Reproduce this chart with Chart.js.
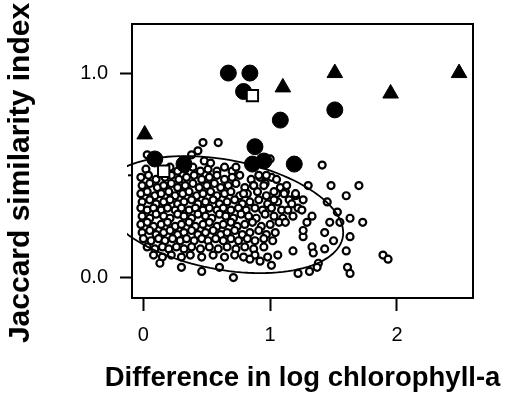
<!DOCTYPE html>
<html>
<head>
<meta charset="utf-8">
<script src="https://cdn.jsdelivr.net/npm/chart.js@4.4.0/dist/chart.umd.min.js"></script>
<style>
  html, body { margin: 0; padding: 0; background: #fff; }
  #wrap { position: relative; width: 510px; height: 393px; }
</style>
</head>
<body>
<div id="wrap"><canvas id="chart" width="510" height="393"></canvas></div>
<script>
const xTicks = [0, 1, 2];
const yTicks = [0, 1];
const yTickLabels = { 0: "0.0", 1: "1.0" };

const xTitle = "Difference in log chlorophyll-a";
const yTitle = "Jaccard similarity index";

// large markers
const filledCircles = [
  [0.67, 1.0], [0.84, 1.0], [0.79, 0.91], [1.51, 0.82], [1.08, 0.77],
  [0.88, 0.64], [0.09, 0.58], [0.32, 0.555], [0.86, 0.555], [0.95, 0.57], [1.19, 0.555]
];
const triangles = [
  [0.01, 0.70], [1.10, 0.93], [1.51, 1.0], [1.95, 0.90], [2.49, 1.0]
];
const openSquares = [
  [0.86, 0.89], [0.16, 0.52]
];

// small open circles, read row by row from the cloud
const cloud = [
  [0.02,0.53],[0.21,0.54],[0.27,0.52],[0.33,0.53],[0.39,0.54],[0.45,0.52],[0.51,0.53],[0.58,0.52],[0.64,0.54],[0.70,0.52],
  [-0.02,0.49],[0.04,0.50],[0.10,0.48],[0.17,0.49],[0.22,0.50],[0.28,0.48],[0.34,0.49],[0.40,0.50],[0.46,0.48],[0.52,0.49],[0.58,0.50],[0.64,0.48],[0.70,0.49],[0.76,0.50],[0.85,0.48],[0.92,0.49],[1.01,0.49],
  [-0.01,0.45],[0.05,0.46],[0.11,0.44],[0.16,0.45],[0.22,0.46],[0.27,0.44],[0.33,0.45],[0.39,0.46],[0.44,0.44],[0.50,0.45],[0.56,0.46],[0.61,0.44],[0.67,0.45],[0.73,0.46],[0.80,0.44],[0.87,0.45],[0.96,0.46],[1.08,0.44],
  [-0.02,0.41],[0.03,0.42],[0.09,0.40],[0.14,0.41],[0.20,0.42],[0.25,0.40],[0.31,0.41],[0.36,0.42],[0.42,0.40],[0.47,0.41],[0.53,0.42],[0.58,0.40],[0.64,0.41],[0.69,0.42],[0.76,0.40],[0.82,0.41],[0.90,0.42],[0.97,0.40],[1.05,0.41],[1.12,0.42],[1.20,0.40],
  [-0.01,0.37],[0.05,0.38],[0.10,0.36],[0.16,0.37],[0.21,0.38],[0.27,0.36],[0.32,0.37],[0.38,0.38],[0.43,0.36],[0.49,0.37],[0.55,0.38],[0.60,0.36],[0.66,0.37],[0.72,0.38],[0.78,0.36],[0.84,0.37],[0.91,0.38],[0.98,0.36],[1.06,0.37],[1.15,0.38],
  [-0.02,0.34],[0.03,0.33],[0.08,0.34],[0.14,0.33],[0.19,0.34],[0.25,0.33],[0.30,0.34],[0.36,0.33],[0.41,0.34],[0.47,0.33],[0.52,0.34],[0.58,0.33],[0.63,0.34],[0.69,0.33],[0.75,0.34],[0.81,0.33],[0.88,0.34],[0.94,0.33],[1.01,0.34],[1.09,0.33],[1.22,0.34],
  [-0.01,0.30],[0.05,0.29],[0.10,0.31],[0.16,0.30],[0.21,0.29],[0.27,0.31],[0.32,0.30],[0.38,0.29],[0.43,0.31],[0.49,0.30],[0.54,0.29],[0.60,0.31],[0.65,0.30],[0.71,0.29],[0.77,0.31],[0.83,0.30],[0.89,0.29],[0.96,0.31],[1.03,0.30],[1.10,0.29],
  [-0.02,0.26],[0.03,0.27],[0.08,0.25],[0.14,0.26],[0.19,0.27],[0.25,0.25],[0.30,0.26],[0.36,0.27],[0.41,0.25],[0.47,0.26],[0.52,0.27],[0.58,0.25],[0.63,0.26],[0.69,0.27],[0.74,0.25],[0.80,0.26],[0.86,0.27],[0.93,0.25],[1.00,0.26],[1.07,0.27],
  [-0.01,0.22],[0.05,0.23],[0.10,0.21],[0.16,0.22],[0.21,0.23],[0.27,0.21],[0.32,0.22],[0.38,0.23],[0.43,0.21],[0.49,0.22],[0.55,0.23],[0.61,0.21],[0.66,0.22],[0.72,0.23],[0.78,0.21],[0.84,0.22],[0.91,0.23],[0.97,0.21],[1.04,0.22],
  [0.00,0.19],[0.06,0.18],[0.12,0.19],[0.17,0.18],[0.23,0.19],[0.29,0.18],[0.34,0.19],[0.40,0.18],[0.46,0.19],[0.51,0.18],[0.57,0.19],[0.63,0.18],[0.69,0.19],[0.75,0.18],[0.82,0.19],[0.88,0.18],[0.95,0.19],[1.02,0.18],
  [0.03,0.15],[0.09,0.14],[0.15,0.15],[0.20,0.14],[0.26,0.15],[0.32,0.14],[0.38,0.15],[0.45,0.14],[0.52,0.15],[0.59,0.14],[0.66,0.15],[0.73,0.14],[0.80,0.15],[0.87,0.14],[0.95,0.15],
  [0.08,0.11],[0.15,0.10],[0.22,0.11],[0.30,0.10],[0.37,0.11],[0.46,0.10],[0.55,0.11],[0.64,0.10],[0.72,0.11],[0.79,0.10],[0.88,0.11],[0.98,0.10],[1.06,0.11],
  // scattered points around the edge of the cloud
  [0.47,0.66],[0.59,0.66],[0.43,0.62],[0.03,0.60],[0.38,0.60],[1.00,0.58],[1.41,0.55],[0.73,0.54],[0.48,0.57],[0.53,0.56],
  [1.48,0.45],[1.70,0.45],[1.60,0.40],[1.30,0.45],[1.45,0.37],[1.53,0.32],[1.63,0.29],[1.73,0.27],[1.55,0.27],[1.47,0.27],
  [1.43,0.22],[1.50,0.18],[1.63,0.20],[1.60,0.13],[1.61,0.05],[1.63,0.02],[1.89,0.11],[1.93,0.09],[1.33,0.15],[1.34,0.12],
  [1.43,0.14],[1.38,0.07],[1.37,0.05],[1.31,0.03],[1.22,0.02],[0.71,0.00],[0.46,0.03],[0.30,0.05],[0.13,0.07],[0.60,0.05],
  [0.84,0.09],[1.01,0.06],[0.92,0.08],[1.18,0.13],[1.26,0.20],[1.26,0.23],[1.29,0.27],[1.33,0.30],[1.25,0.33],[1.17,0.36],
  [1.26,0.38],[1.20,0.41],[1.13,0.45],[1.05,0.48],[0.97,0.50],[0.91,0.50],[0.95,0.45],[0.87,0.45],[0.79,0.41],[1.03,0.42],
  [1.03,0.38],[1.11,0.41],[1.14,0.33],[1.18,0.30],[1.12,0.27]
];

// fitted ellipse: centre and two conjugate half-axes (data units)
const ellipseCenter = [0.625, 0.308];
const ellipseAxisU = [0.951, -0.089];
const ellipseAxisV = [0, 0.272];

const toXY = (arr) => arr.map(([x, y]) => ({ x, y }));
const font = "'Liberation Sans', Arial, Helvetica, sans-serif";

const framePlugin = {
  id: "frame",
  afterDatasetDraw(chart, args) {
    if (args.index !== 3) return;
    const { ctx, chartArea: a, scales } = chart;
    const sx = scales.x, sy = scales.y;
    ctx.save();
    ctx.beginPath();
    ctx.rect(a.left - 5, a.top, a.right - a.left + 5, a.bottom - a.top);
    ctx.clip();
    ctx.beginPath();
    for (let i = 0; i <= 120; i++) {
      const t = (i / 120) * Math.PI * 2;
      const x = ellipseCenter[0] + ellipseAxisU[0] * Math.cos(t) + ellipseAxisV[0] * Math.sin(t);
      const y = ellipseCenter[1] + ellipseAxisU[1] * Math.cos(t) + ellipseAxisV[1] * Math.sin(t);
      const px = sx.getPixelForValue(x), py = sy.getPixelForValue(y);
      if (i === 0) ctx.moveTo(px, py); else ctx.lineTo(px, py);
    }
    ctx.lineWidth = 1.8;
    ctx.strokeStyle = "#000";
    ctx.stroke();
    ctx.restore();
  },
  afterDraw(chart) {
    const { ctx, chartArea: a, scales } = chart;
    ctx.save();
    ctx.strokeStyle = "#000";
    ctx.lineWidth = 2;
    ctx.strokeRect(a.left, a.top, a.right - a.left, a.bottom - a.top);
    // short minor tick at 0.5
    const y5 = scales.y.getPixelForValue(0.5);
    ctx.beginPath();
    ctx.moveTo(a.left - 4, y5);
    ctx.lineTo(a.left, y5);
    ctx.stroke();
    ctx.fillStyle = "#000";
    ctx.textAlign = "center";
    // x title (drawn here so it is not squeezed to the plot width)
    ctx.font = "bold 27.5px " + font;
    ctx.textBaseline = "alphabetic";
    ctx.fillText(xTitle, (a.left + a.right) / 2, 386);
    // y title
    ctx.translate(21, 173);
    ctx.rotate(-Math.PI / 2);
    ctx.font = "bold 30px " + font;
    ctx.textBaseline = "middle";
    ctx.fillText(yTitle, 0, 0);
    ctx.restore();
  }
};

new Chart(document.getElementById("chart"), {
  type: "scatter",
  data: {
    datasets: [
      {
        label: "triangles",
        data: toXY(triangles),
        pointStyle: "triangle",
        pointRadius: 9,
        backgroundColor: "#000",
        borderColor: "#000",
        borderWidth: 1,
      },
      {
        label: "squares",
        data: toXY(openSquares),
        pointStyle: "rect",
        pointRadius: 8,
        backgroundColor: "#fff",
        borderColor: "#000",
        borderWidth: 2,
      },
      {
        label: "filled",
        data: toXY(filledCircles),
        pointRadius: 8,
        backgroundColor: "#000",
        borderColor: "#000",
        borderWidth: 1,
      },
      {
        label: "cloud",
        data: toXY(cloud),
        pointRadius: 3.5,
        backgroundColor: "#fff",
        borderColor: "#000",
        borderWidth: 2.2,
      },
    ],
  },
  options: {
    responsive: false,
    animation: false,
    events: [],
    layout: { padding: { top: 12, right: 37, left: 0, bottom: 0 } },
    plugins: {
      legend: { display: false },
      tooltip: { enabled: false },
    },
    scales: {
      x: {
        type: "linear",
        min: -0.09,
        max: 2.6,
        afterBuildTicks: (s) => { s.ticks = xTicks.map((v) => ({ value: v })); },
        afterFit: (s) => { s.height = 95; },
        border: { display: false },
        grid: { drawOnChartArea: false, drawTicks: true, tickLength: 13, tickWidth: 2, tickColor: "#000" },
        ticks: {
          color: "#000",
          padding: 12,
          font: { size: 20, family: font },
          callback: (v) => String(v),
        },
        title: { display: false },
      },
      y: {
        type: "linear",
        min: -0.1,
        max: 1.24,
        afterBuildTicks: (s) => { s.ticks = yTicks.map((v) => ({ value: v })); },
        afterFit: (s) => { s.width = 132; },
        border: { display: false },
        grid: { drawOnChartArea: false, drawTicks: true, tickLength: 12, tickWidth: 2, tickColor: "#000" },
        ticks: {
          color: "#000",
          padding: 12,
          font: { size: 20, family: font },
          callback: (v) => yTickLabels[v] ?? "",
        },
      },
    },
  },
  plugins: [framePlugin],
});
</script>
</body>
</html>
